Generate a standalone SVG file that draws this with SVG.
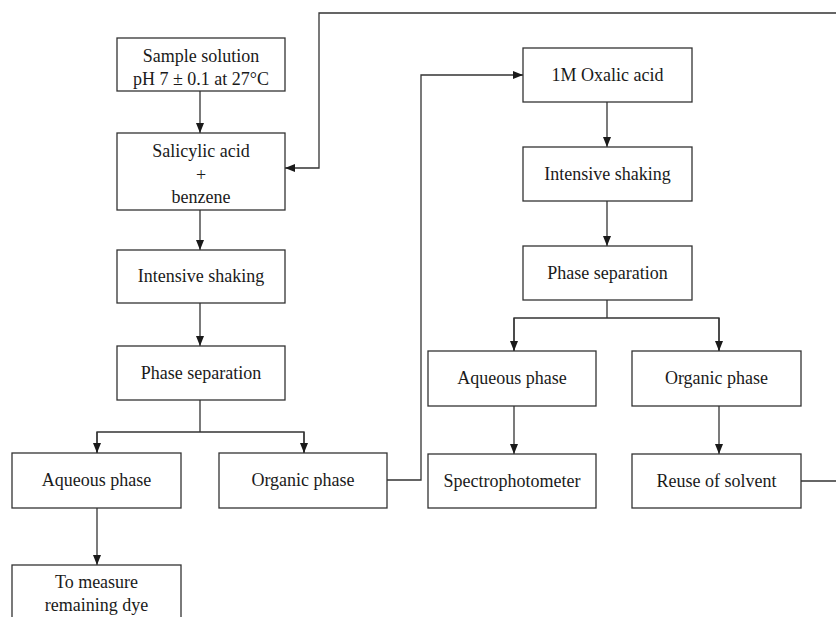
<svg xmlns="http://www.w3.org/2000/svg" width="836" height="617" viewBox="0 0 836 617">
<style>
.box{fill:#fff;stroke:#333;stroke-width:1.3}
.t{font-family:"Liberation Serif","Times New Roman",serif;font-size:18px;fill:#1a1a1a;text-anchor:middle}
.c{fill:none;stroke:#333;stroke-width:1.3}
</style>
<defs>
<marker id="ah" viewBox="0 0 10 10" refX="10" refY="5" markerWidth="10" markerHeight="10" markerUnits="userSpaceOnUse" orient="auto">
<path d="M0,1 L10,5 L0,9 Z" fill="#1a1a1a"/>
</marker>
</defs>
<rect width="836" height="617" fill="#fff"/>
<g id="connectors">
<path class="c" d="M200,91 V133" marker-end="url(#ah)"/>
<path class="c" d="M200,210 V250" marker-end="url(#ah)"/>
<path class="c" d="M200,303 V346" marker-end="url(#ah)"/>
<path class="c" d="M200,400 V432"/>
<path class="c" d="M97,453 V432 H304 V453"/>
<path class="c" d="M97,432 V453" marker-end="url(#ah)"/>
<path class="c" d="M304,432 V453" marker-end="url(#ah)"/>
<path class="c" d="M97,508 V565" marker-end="url(#ah)"/>
<path class="c" d="M387,480 H421 V75 H523" marker-end="url(#ah)"/>
<path class="c" d="M607,102 V147" marker-end="url(#ah)"/>
<path class="c" d="M607,201 V246" marker-end="url(#ah)"/>
<path class="c" d="M607,300 V318"/>
<path class="c" d="M514,351 V318 H719 V351"/>
<path class="c" d="M514,318 V351" marker-end="url(#ah)"/>
<path class="c" d="M719,318 V351" marker-end="url(#ah)"/>
<path class="c" d="M514,406 V454" marker-end="url(#ah)"/>
<path class="c" d="M719,406 V454" marker-end="url(#ah)"/>
<path class="c" d="M801,481 H836"/>
<path class="c" d="M836,13 H319 V168 H285" marker-end="url(#ah)"/>
</g>
<g id="sample">
<rect class="box" x="117" y="38" width="168" height="53"/>
<text class="t" x="201" y="62">Sample solution</text>
<text class="t" x="201" y="85">pH 7 ± 0.1 at 27°C</text>
</g>
<g id="salicylic">
<rect class="box" x="117" y="133" width="168" height="77"/>
<text class="t" x="201" y="157">Salicylic acid</text>
<text class="t" x="201" y="181">+</text>
<text class="t" x="201" y="203">benzene</text>
</g>
<g id="shaking1">
<rect class="box" x="117" y="250" width="168" height="53"/>
<text class="t" x="201" y="282">Intensive shaking</text>
</g>
<g id="phase1">
<rect class="box" x="117" y="346" width="168" height="54"/>
<text class="t" x="201" y="379">Phase separation</text>
</g>
<g id="aqueous1">
<rect class="box" x="12" y="453" width="169" height="55"/>
<text class="t" x="96.5" y="486">Aqueous phase</text>
</g>
<g id="organic1">
<rect class="box" x="219" y="453" width="168" height="55"/>
<text class="t" x="303" y="486">Organic phase</text>
</g>
<g id="measure">
<rect class="box" x="12" y="565" width="169" height="60"/>
<text class="t" x="96.5" y="588">To measure</text>
<text class="t" x="96.5" y="611">remaining dye</text>
</g>
<g id="oxalic">
<rect class="box" x="523" y="48" width="169" height="54"/>
<text class="t" x="607.5" y="81">1M Oxalic acid</text>
</g>
<g id="shaking2">
<rect class="box" x="523" y="147" width="169" height="54"/>
<text class="t" x="607.5" y="180">Intensive shaking</text>
</g>
<g id="phase2">
<rect class="box" x="523" y="246" width="169" height="54"/>
<text class="t" x="607.5" y="279">Phase separation</text>
</g>
<g id="aqueous2">
<rect class="box" x="428" y="351" width="168" height="55"/>
<text class="t" x="512" y="384">Aqueous phase</text>
</g>
<g id="organic2">
<rect class="box" x="632" y="351" width="169" height="55"/>
<text class="t" x="716.5" y="384">Organic phase</text>
</g>
<g id="spectro">
<rect class="box" x="428" y="454" width="168" height="54"/>
<text class="t" x="512" y="487">Spectrophotometer</text>
</g>
<g id="reuse">
<rect class="box" x="632" y="454" width="169" height="54"/>
<text class="t" x="716.5" y="487">Reuse of solvent</text>
</g>
</svg>
